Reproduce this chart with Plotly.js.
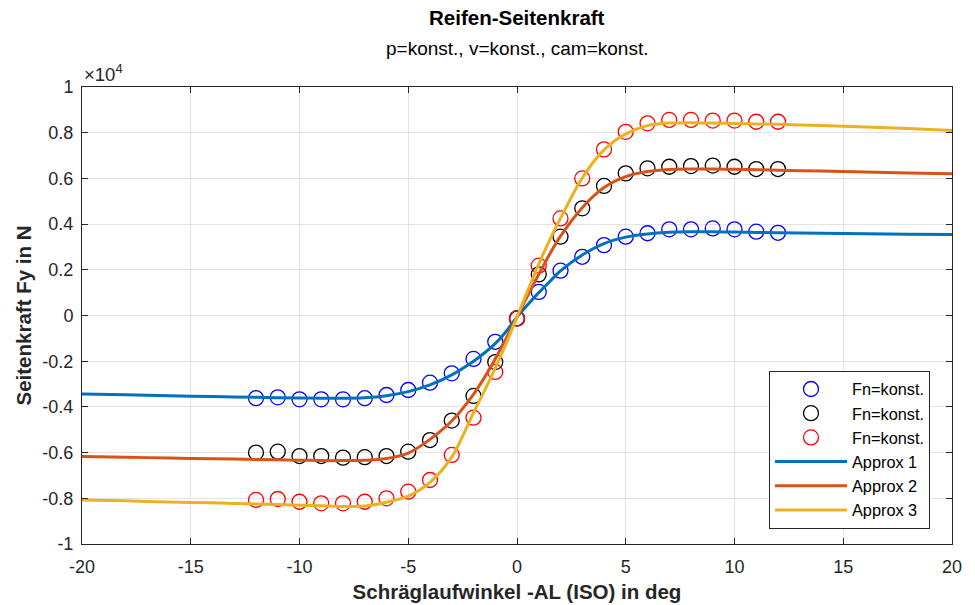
<!DOCTYPE html>
<html>
<head>
<meta charset="utf-8">
<script src="https://cdn.plot.ly/plotly-3.0.1.min.js"></script>
<style>html,body{margin:0;padding:0;background:#fff;}#chart{width:975px;height:605px;}</style>
</head>
<body>
<div id="chart"></div>
<script>
// Measured points (slip angle in deg, lateral force in N)
const measX = [-12,-11,-10,-9,-8,-7,-6,-5,-4,-3,-2,-1,0,1,2,3,4,5,6,7,8,9,10,11,12];
const fn1 = [-3620,-3580,-3670,-3670,-3670,-3620,-3480,-3260,-2940,-2530,-1900,-1150,-130,1030,1960,2570,3080,3450,3600,3770,3770,3810,3770,3670,3620];
const fn2 = [-6000,-5960,-6150,-6150,-6220,-6200,-6150,-5960,-5450,-4600,-3520,-2040,-130,1800,3450,4690,5670,6220,6440,6510,6540,6560,6510,6410,6410];
const fn3 = [-8070,-8030,-8150,-8220,-8220,-8150,-8000,-7710,-7200,-6100,-4470,-2470,-130,2180,4250,6000,7270,8040,8410,8560,8560,8530,8530,8480,8480];

// Approximation curves
const apX = [-20,-18,-16,-14,-12,-10,-9,-8,-7,-6,-5,-4,-3,-2,-1.5,-1,-0.5,0,0.5,1,1.5,2,3,4,5,6,7,8,9,10,12,14,16,18,20];
const ap1 = [-3430,-3470,-3510,-3550,-3580,-3610,-3620,-3620,-3600,-3510,-3330,-3040,-2600,-2000,-1640,-1230,-700,-60,480,1000,1480,1950,2650,3150,3430,3570,3640,3660,3660,3650,3620,3600,3580,3560,3540];
const ap2 = [-6170,-6200,-6240,-6270,-6300,-6330,-6350,-6350,-6340,-6260,-6020,-5420,-4620,-3450,-2720,-1900,-1000,-60,880,1800,2680,3470,4720,5600,6080,6300,6390,6410,6410,6400,6360,6320,6280,6240,6200];
const ap3 = [-8070,-8110,-8160,-8200,-8250,-8300,-8330,-8360,-8340,-8170,-7900,-7300,-6200,-4250,-3300,-2300,-1230,-60,1100,2250,3300,4250,6020,7250,7950,8310,8420,8440,8420,8400,8370,8310,8250,8180,8100];

const xTicks = [-20,-15,-10,-5,0,5,10,15,20];
const yTickVals = [-10000,-8000,-6000,-4000,-2000,0,2000,4000,6000,8000,10000];
const yTickText = ['-1','-0.8','-0.6','-0.4','-0.2','0','0.2','0.4','0.6','0.8','1'];

const font = 'Liberation Sans, Arial, Helvetica, sans-serif';
const mk = (col) => ({symbol:'circle-open', size:15, color:col, line:{color:col, width:1.3}});
const traces = [
  {x:measX, y:fn1, mode:'markers', name:'Fn=konst.', marker:mk('#0000FF')},
  {x:measX, y:fn2, mode:'markers', name:'Fn=konst.', marker:mk('#000000')},
  {x:measX, y:fn3, mode:'markers', name:'Fn=konst.', marker:mk('#FF0000')},
  {x:apX, y:ap1, mode:'lines', name:'Approx 1', line:{color:'#0072BD', width:3, shape:'spline', smoothing:0.8}},
  {x:apX, y:ap2, mode:'lines', name:'Approx 2', line:{color:'#D95319', width:3, shape:'spline', smoothing:0.8}},
  {x:apX, y:ap3, mode:'lines', name:'Approx 3', line:{color:'#EDB120', width:3, shape:'spline', smoothing:0.8}}
];
const axisCommon = {
  showline:true, linecolor:'#262626', linewidth:1, mirror:'allticks',
  ticks:'inside', ticklen:6, tickcolor:'#262626', tickwidth:1,
  showgrid:true, gridcolor:'#e3e3e3', gridwidth:1, zeroline:false,
  tickfont:{family:font, size:18, color:'#262626'}
};
const layout = {
  width:975, height:605,
  margin:{l:82, r:23, t:87, b:61},
  paper_bgcolor:'#fff', plot_bgcolor:'#fff',
  font:{family:font, color:'#262626'},
  showlegend:true,
  xaxis:Object.assign({}, axisCommon, {
    range:[-20,20], tickvals:xTicks, ticktext:xTicks.map(String), ticklabelstandoff:6,
    title:{text:'<b>Schräglaufwinkel -AL (ISO) in deg</b>', font:{family:font, size:20.5, color:'#262626'}, standoff:9}
  }),
  yaxis:Object.assign({}, axisCommon, {
    range:[-10000,10000], tickvals:yTickVals, ticktext:yTickText, ticklabelstandoff:4,
    title:{text:'<b>Seitenkraft Fy in N</b>', font:{family:font, size:20.5, color:'#262626'}, standoff:5}
  }),
  legend:{
    x:0.9747, y:0.033, xanchor:'right', yanchor:'bottom',
    bgcolor:'#fff', bordercolor:'#262626', borderwidth:1,
    font:{family:font, size:16.3, color:'#000'}, itemwidth:72, tracegroupgap:0
  },
  annotations:[
    {text:'<b>Reifen-Seitenkraft</b>', xref:'paper', yref:'paper', x:0.5, y:1.151, xanchor:'center', yanchor:'middle', showarrow:false, font:{family:font, size:20.5, color:'#000'}},
    {text:'p=konst., v=konst., cam=konst.', xref:'paper', yref:'paper', x:0.5, y:1.085, xanchor:'center', yanchor:'middle', showarrow:false, font:{family:font, size:19, color:'#000'}},
    {text:'×10<sup>4</sup>', xref:'paper', yref:'paper', x:0, y:1.0, xanchor:'left', yanchor:'bottom', showarrow:false, font:{family:font, size:18.5, color:'#262626'}}
  ]
};
Plotly.newPlot('chart', traces, layout, {displayModeBar:false, staticPlot:true});
</script>
</body>
</html>
